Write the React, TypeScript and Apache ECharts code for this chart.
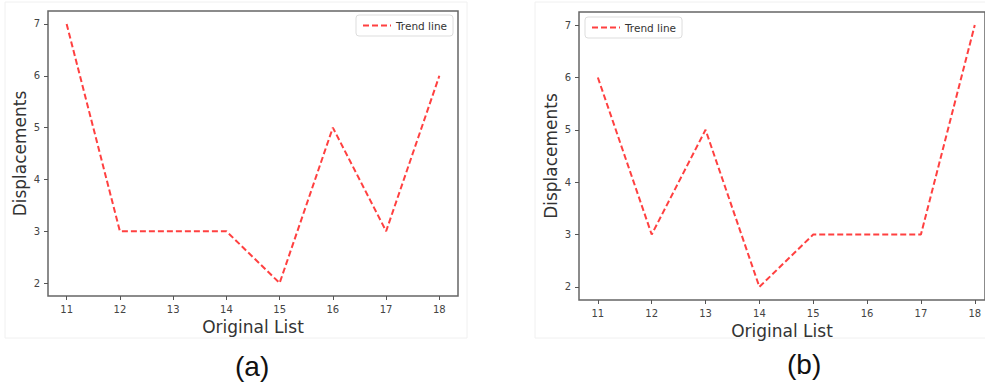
import React, { useEffect, useRef } from "react";
import * as echarts from "echarts";

const xValues = [11, 12, 13, 14, 15, 16, 17, 18];
const seriesA = [7, 3, 3, 3, 2, 5, 3, 6];
const seriesB = [6, 3, 5, 2, 3, 3, 3, 7];
const xTicks = [11, 12, 13, 14, 15, 16, 17, 18];
const yTicks = [2, 3, 4, 5, 6, 7];
const seriesName = "Trend line";
const xName = "Original List";
const yName = "Displacements";
const panelLabels = ["(a)", "(b)"];

const FONT = "DejaVu Sans";

export default function App() {
  const ref = useRef<HTMLDivElement>(null);
  useEffect(() => {
    document.body.style.margin = "0";
    const chart = echarts.init(ref.current!, null, { renderer: "svg" });
    const mkX = (i: number, max: number) => ({
      type: "value",
      gridIndex: i,
      min: 10.65,
      max,
      name: xName,
      nameLocation: "middle",
      nameGap: 21,
      nameTextStyle: { fontFamily: FONT, fontSize: 17, color: "#333" },
      axisLine: { show: false },
      axisTick: { show: true, length: 4, lineStyle: { color: "#555" }, customValues: xTicks },
      axisLabel: { fontFamily: FONT, fontSize: 10, color: "#444", margin: 8, customValues: xTicks },
      splitLine: { show: false },
    });
    const mkY = (i: number) => ({
      type: "value",
      gridIndex: i,
      min: 1.75,
      max: 7.25,
      name: yName,
      nameLocation: "middle",
      nameGap: 20,
      nameTextStyle: { fontFamily: FONT, fontSize: 17, color: "#333" },
      axisLine: { show: false },
      axisTick: { show: true, length: 4, lineStyle: { color: "#555" }, customValues: yTicks },
      axisLabel: { fontFamily: FONT, fontSize: 10, color: "#444", margin: 8, customValues: yTicks },
      splitLine: { show: false },
    });
    const lineStyle = { color: "rgba(255,30,30,0.85)", width: 2, type: [6, 3] as any };
    const legendCommon = {
      data: [seriesName], itemWidth: 28, itemHeight: 10, itemGap: 6,
      padding: [5, 6, 5, 6], borderColor: "#ddd", borderWidth: 1, borderRadius: 3,
      itemStyle: { opacity: 0 },
      lineStyle: { color: "rgba(255,30,30,0.85)", width: 2, type: [6, 3] as any },
      textStyle: { fontFamily: FONT, fontSize: 10.5, color: "#333" },
    };
    chart.setOption({
      animation: false,
      backgroundColor: "#ffffff",
      grid: [
        { left: 48, top: 11, width: 410, height: 285, show: true, borderColor: "#666", borderWidth: 1.5, backgroundColor: "transparent" },
        { left: 579, top: 12, width: 407, height: 288, show: true, borderColor: "#666", borderWidth: 1.5, backgroundColor: "transparent" },
      ],
      xAxis: [mkX(0, 18.35), mkX(1, 18.19)],
      yAxis: [mkY(0), mkY(1)],
      legend: [
        { ...legendCommon, left: 356, top: 15 },
        { ...legendCommon, left: 585, top: 17 },
      ],
      graphic: [
        { type: "rect", z: -10, shape: { x: 5, y: 2, width: 462, height: 336 }, style: { fill: "#ffffff", stroke: "#f0f0f0", lineWidth: 1 } },
        { type: "rect", z: -10, shape: { x: 535, y: 2, width: 455, height: 336 }, style: { fill: "#ffffff", stroke: "#f0f0f0", lineWidth: 1 } },
        { type: "text", left: 253 - 18, top: 352, style: { text: panelLabels[0], font: "28px 'Liberation Sans', Arial, sans-serif", fill: "#111" } },
        { type: "text", left: 805 - 18, top: 350, style: { text: panelLabels[1], font: "28px 'Liberation Sans', Arial, sans-serif", fill: "#111" } },
      ],
      series: [
        {
          type: "line", name: seriesName, xAxisIndex: 0, yAxisIndex: 0, symbol: "none",
          data: xValues.map((x, i) => [x, seriesA[i]]), lineStyle, itemStyle: { color: lineStyle.color },
        },
        {
          type: "line", name: seriesName, xAxisIndex: 1, yAxisIndex: 1, symbol: "none",
          data: xValues.map((x, i) => [x, seriesB[i]]), lineStyle, itemStyle: { color: lineStyle.color },
        },
      ],
    });
    return () => chart.dispose();
  }, []);
  return <div ref={ref} style={{ width: 985, height: 389 }} />;
}
